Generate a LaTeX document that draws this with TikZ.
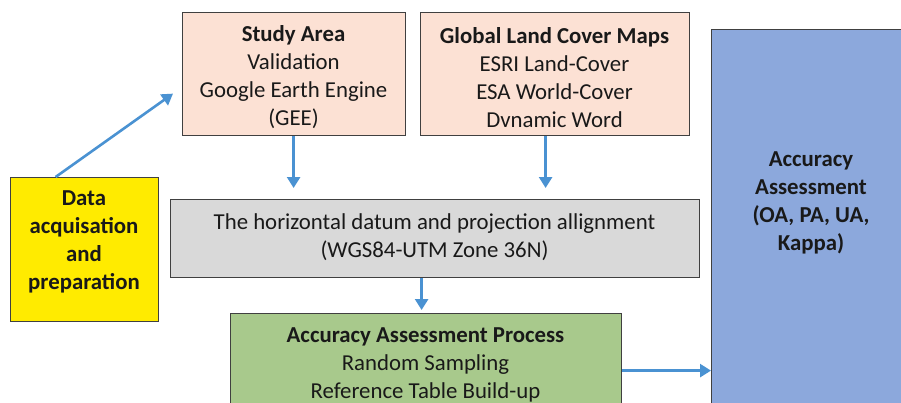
\documentclass[tikz,border=0pt]{standalone}
\usepackage{fontspec}
\setmainfont{Carlito}
\usetikzlibrary{arrows.meta}
\definecolor{peach}{HTML}{FCE1D4}
\definecolor{graybox}{HTML}{D9D9D9}
\definecolor{greenbox}{HTML}{A8C98C}
\definecolor{yellowbox}{HTML}{FFEB00}
\definecolor{bluebox}{HTML}{8CA8DC}
\definecolor{arrowblue}{HTML}{4A92D2}
\definecolor{edge}{HTML}{404040}
\tikzset{
  box/.style={draw=edge, line width=1.2pt, inner sep=0pt, anchor=north west},
  txt/.style={font=\fontsize{22.8}{28}\selectfont, align=center, inner sep=0pt, text=black!90},
  bold/.style={txt, font=\fontsize{22.8}{28}\selectfont\bfseries},
  conn/.style={draw=arrowblue, line width=2.6pt, -{Triangle[width=13pt,length=11pt]}},
}
\begin{document}
\begin{tikzpicture}[x=1pt,y=-1pt]
\useasboundingbox (0,0) rectangle (901,402);
\clip (0,0) rectangle (901,402);
\fill[white] (0,0) rectangle (901,402);
% boxes
\node[box, fill=peach, minimum width=223pt, minimum height=123pt] (study) at (182,12) {};
\node[box, fill=peach, minimum width=269pt, minimum height=123pt] (glob) at (420,12) {};
\node[box, fill=bluebox, minimum width=200pt, minimum height=390pt] (blue) at (711,29) {};
\node[box, fill=yellowbox, minimum width=148pt, minimum height=144pt] (yel) at (10,177) {};
\node[box, fill=graybox, minimum width=529pt, minimum height=78pt] (gray) at (170,199) {};
\node[box, fill=greenbox, minimum width=391pt, minimum height=110pt] (green) at (230,313) {};
% texts
\node[txt] (studyt) at (293.5,77.5) {\textbf{Study Area}\\Validation\\Google Earth Engine\\(GEE)};
\node[txt] (globt) at (554.5,77.5) {\textbf{Global Land Cover Maps}\\ESRI Land-Cover\\ESA World-Cover\\Dvnamic Word};
\node[bold] (bluet) at (811,203) {Accuracy\\Assessment\\(OA, PA, UA,\\Kappa)};
\node[bold] (yelt) at (84,242) {Data\\acquisation\\and\\preparation};
\node[txt] (grayt) at (434.5,237.5) {The horizontal datum and projection allignment\\(WGS84-UTM Zone 36N)};
\node[txt] (greent) at (425.5,364.5) {\textbf{Accuracy Assessment Process}\\Random Sampling\\Reference Table Build-up};
% connectors
\coordinate (ye) at ([xshift=-9pt,yshift=-19.5pt]study.west);
\draw[conn] ([xshift=-29pt]yel.north) -- (ye);
\draw[conn, shorten >=11pt] ([xshift=-0.5pt]study.south) -- ([xshift=-0.5pt]study.south |- gray.north);
\draw[conn, shorten >=11pt] ([xshift=-9.5pt]glob.south) -- ([xshift=-9.5pt]glob.south |- gray.north);
\draw[conn, shorten >=3pt] ([xshift=-13.5pt]gray.south) -- ([xshift=-13.5pt]gray.south |- green.north);
\coordinate (ge) at ([yshift=-2pt]green.east);
\draw[conn] (ge) -- (ge -| blue.west);
\end{tikzpicture}
\end{document}
